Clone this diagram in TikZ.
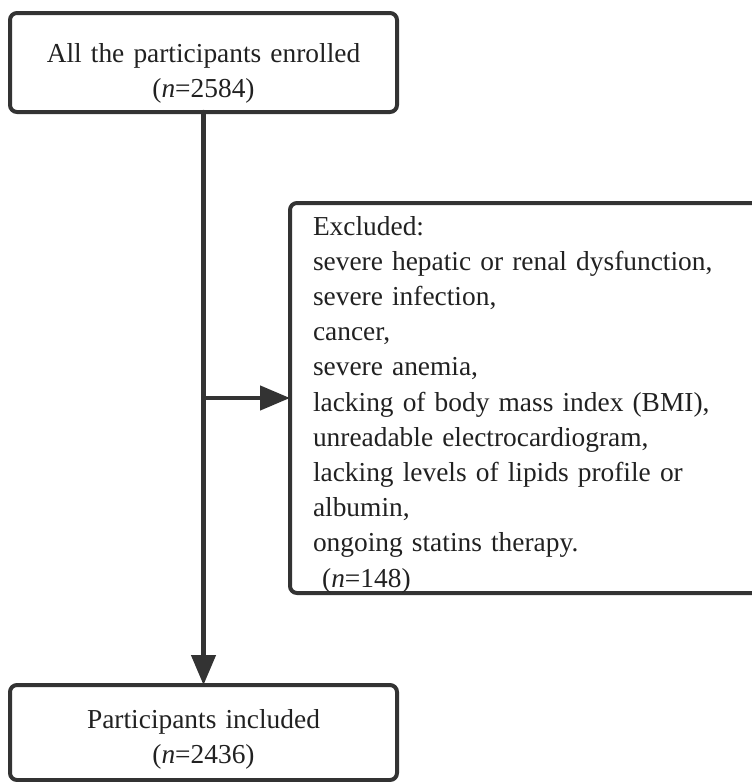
\documentclass[tikz,border=0pt]{standalone}
\usepackage{fontspec}
\setmainfont{Liberation Serif}
\usepackage{tikz}
\usetikzlibrary{arrows.meta}
\definecolor{sqsqsq}{rgb}{0.2,0.2,0.2}
\definecolor{tttttt}{rgb}{0.13,0.13,0.13}

\begin{document}
\begin{tikzpicture}[line cap=round,line join=round,>={Triangle[length=30pt,width=24pt]},x=1pt,y=-1pt,
  flowbox/.style={draw=sqsqsq,line width=4pt,rounded corners=7pt,text=tttttt,outer sep=0pt,inner sep=0pt,font=\fontsize{27.4}{35.2}\selectfont}]
      \useasboundingbox (0,0) rectangle (752,782);
      \node[flowbox,align=center,text width=387pt,text height=49pt,text depth=50pt] (enrolled) at (203.5,62.5) {All the participants enrolled\\(\textit{n}=2584)};
      \node[flowbox,align=left,text width=434pt,inner xsep=23pt,text height=32pt,text depth=358pt] (excluded) at (530,398) {Excluded:\\
        severe hepatic or renal dysfunction,\\
        severe infection,\\
        cancer,\\
        severe anemia,\\
        lacking of body mass index (BMI),\\
        unreadable electrocardiogram,\\
        lacking levels of lipids profile or\\
        albumin,\\
        ongoing statins therapy.\\
        \ (\textit{n}=148)};
      \node[flowbox,align=center,text width=387pt,text height=43pt,text depth=52pt] (included) at (203.5,732.5) {Participants included\\(\textit{n}=2436)};
      \coordinate (branch) at (enrolled.south |- excluded.west);
      \draw[->,color=sqsqsq,line width=4.5pt] (enrolled.south) -- (included.north);
      \draw[->,color=sqsqsq,line width=4.5pt] (branch) -- (excluded.west);
\end{tikzpicture}
\end{document}
